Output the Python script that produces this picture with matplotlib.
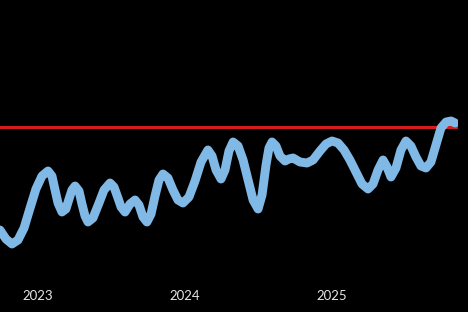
import matplotlib
matplotlib.use("Agg")
import matplotlib.pyplot as plt

# x in decimal years (arbitrary index units)
years = [2022.741, 2022.782, 2022.823, 2022.864, 2022.905, 2022.946, 2022.986, 2023.027, 2023.068,
         2023.095, 2023.116, 2023.136, 2023.163,
         2023.190, 2023.211, 2023.231, 2023.252,
         2023.279, 2023.299, 2023.320, 2023.340,
         2023.374, 2023.415, 2023.449, 2023.490,
         2023.517, 2023.544, 2023.565, 2023.592,
         2023.626, 2023.660,
         2023.687, 2023.714, 2023.741,
         2023.769, 2023.796, 2023.823, 2023.850,
         2023.884, 2023.918, 2023.952, 2023.986,
         2024.027, 2024.068, 2024.109, 2024.156,
         2024.184, 2024.211, 2024.245,
         2024.272, 2024.299, 2024.327,
         2024.361, 2024.395, 2024.429, 2024.463, 2024.497,
         2024.524, 2024.551, 2024.571, 2024.592,
         2024.619, 2024.646, 2024.680,
         2024.707, 2024.735,
         2024.782, 2024.830,
         2024.871, 2024.918, 2024.959, 2025.000,
         2025.041, 2025.082, 2025.122, 2025.163, 2025.204, 2025.245,
         2025.279, 2025.313, 2025.347,
         2025.374, 2025.401,
         2025.435, 2025.469, 2025.503,
         2025.537, 2025.571, 2025.605, 2025.639,
         2025.673, 2025.707, 2025.741, 2025.776,
         2025.810, 2025.837]
values = [3.0, 2.1, 1.6, 2.0, 3.2, 5.2, 7.1, 8.4, 8.9,
          8.4, 7.0, 5.7, 4.8,
          5.1, 6.1, 7.0, 7.4,
          6.9, 5.6, 4.4, 3.8,
          4.2, 5.7, 7.0, 7.7,
          7.3, 6.2, 5.3, 4.8,
          5.6, 6.0,
          5.5, 4.3, 3.8,
          4.6, 6.4, 8.0, 8.6,
          8.2, 7.0, 6.0, 5.7,
          6.3, 7.9, 9.8, 11.0,
          10.4, 9.0, 8.1,
          9.0, 10.9, 11.8,
          11.4, 10.0, 8.0, 6.0, 5.1,
          6.5, 9.5, 11.2, 11.8,
          11.4, 10.4, 9.9,
          10.1, 10.2,
          9.8, 9.7,
          10.0, 10.9, 11.6, 11.9,
          11.7, 11.0, 10.0, 8.8, 7.6, 7.1,
          7.6, 9.0, 10.0,
          9.3, 8.3,
          9.2, 11.0, 11.9,
          11.4, 10.3, 9.4, 9.2,
          9.8, 11.5, 13.2, 13.8,
          13.9, 13.7]
target = 13.3
tick_years = [2023, 2024, 2025]
tick_labels = ["2023", "2024", "2025"]

fig = plt.figure(figsize=(4.68, 3.12), dpi=100, facecolor="black")
ax = fig.add_axes([0, 32 / 312, 458 / 468, 280 / 312])
ax.set_facecolor("black")

ax.axhline(target, color="#d41c1c", lw=2.2, zorder=1)
ax.plot(years, values, color="#80b8e6", lw=6.4, solid_capstyle="round",
        solid_joinstyle="round", zorder=2)

ax.set_xlim(2022.7415, 2025.857)
ax.set_ylim(-2, 26)
ax.set_xticks(tick_years)
ax.set_xticklabels(tick_labels, family="Lato", fontsize=9.5, color="#e6e6e6")
ax.tick_params(axis="x", length=0, pad=7.5)
ax.set_yticks([])
for s in ax.spines.values():
    s.set_visible(False)

fig.savefig("out.png", dpi=100, facecolor="black")
